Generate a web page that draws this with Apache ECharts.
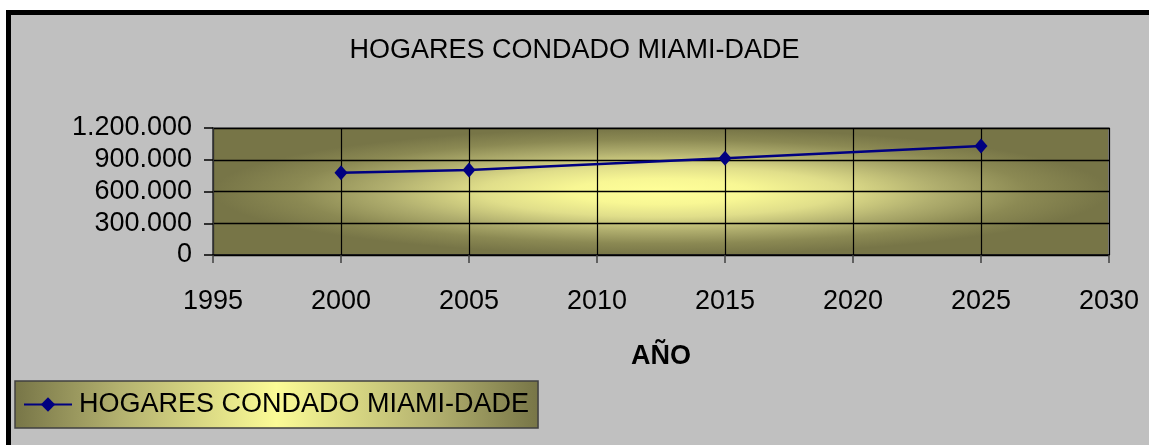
<!DOCTYPE html>
<html>
<head>
<meta charset="utf-8">
<script src="https://cdn.jsdelivr.net/npm/echarts@6/dist/echarts.min.js"></script>
<style>
  html, body { margin: 0; padding: 0; background: #ffffff; overflow: hidden; }
  #frame { position: absolute; left: 6px; top: 10px; width: 1200px; height: 500px;
           border: 5px solid #000; background: #c0c0c0; box-sizing: border-box; }
  #chart { position: absolute; left: 0; top: 0; width: 1149px; height: 445px; }
</style>
</head>
<body>
<div id="frame"></div>
<div id="chart"></div>
<script>
const titleText = 'HOGARES CONDADO MIAMI-DADE';
const seriesName = 'HOGARES CONDADO MIAMI-DADE';
const xAxisName = 'AÑO';
const years = [2000, 2005, 2015, 2025];
const households = [776000, 803000, 914000, 1030000];
const xMin = 1995, xMax = 2030, xStep = 5;
const yMin = 0, yMax = 1200000, yStep = 300000;

const FONT = '"Liberation Sans", Arial, Helvetica, sans-serif';

function fmt(v) {
  return String(v).replace(/\B(?=(\d{3})+(?!\d))/g, '.');
}

function glow() {
  return new echarts.graphic.RadialGradient(0.5, 0.5, 0.5, [
    { offset: 0, color: '#ffff99' },
    { offset: 0.2, color: '#f8f794' },
    { offset: 0.4, color: '#e0de8a' },
    { offset: 0.62, color: '#b0ae6e' },
    { offset: 0.82, color: '#8b8953' },
    { offset: 1, color: '#777547' }
  ]);
}

const chart = echarts.init(document.getElementById('chart'), null, { renderer: 'canvas' });

const option = {
  backgroundColor: 'transparent',
  animation: false,
  title: {
    text: titleText,
    left: 'center',
    top: 32,
    textStyle: { fontFamily: FONT, fontSize: 27, fontWeight: 'normal', color: '#000' }
  },
  legend: {
    left: 15,
    top: 381,
    padding: [10, 9, 10, 8],
    itemWidth: 48,
    itemHeight: 18,
    backgroundColor: new echarts.graphic.LinearGradient(0, 0, 1, 0, [
      { offset: 0, color: '#777547' },
      { offset: 0.2, color: '#b3b16f' },
      { offset: 0.5, color: '#fbfb96' },
      { offset: 0.8, color: '#b3b16f' },
      { offset: 1, color: '#777547' }
    ]),
    borderColor: '#404040',
    borderWidth: 1.5,
    textStyle: { fontFamily: FONT, fontSize: 27, color: '#000', padding: [0, 0, 0, 2] },
    data: [seriesName]
  },
  grid: {
    left: 213, right: 40, top: 128, bottom: 190,
    show: true,
    backgroundColor: 'transparent',
    borderColor: '#808080',
    borderWidth: 2
  },
  xAxis: {
    type: 'value',
    min: xMin, max: xMax, interval: xStep,
    name: xAxisName,
    nameLocation: 'middle',
    nameGap: 88,
    nameTextStyle: { fontFamily: FONT, fontSize: 27, fontWeight: 'bold', color: '#000' },
    axisLine: { show: true, onZero: false, lineStyle: { color: '#000', width: 1.5 } },
    axisTick: { show: true, inside: false, length: 8, lineStyle: { color: '#404040', width: 1.5 } },
    axisLabel: { margin: 33, fontFamily: FONT, fontSize: 27, color: '#000', formatter: v => String(v) },
    splitLine: { show: true, lineStyle: { color: '#000', width: 1.2 } }
  },
  yAxis: {
    type: 'value',
    min: yMin, max: yMax, interval: yStep,
    axisLine: { show: true, lineStyle: { color: '#404040', width: 1.5 } },
    axisTick: { show: true, inside: false, length: 9, lineStyle: { color: '#000', width: 1.5 } },
    axisLabel: { margin: 21, fontFamily: FONT, fontSize: 27, color: '#000', formatter: v => fmt(v) },
    splitLine: { show: true, lineStyle: { color: '#000', width: 1.3 } }
  },
  series: [{
    name: seriesName,
    type: 'line',
    data: years.map((y, i) => [y, households[i]]),
    symbol: 'diamond',
    symbolSize: [13, 15],
    showSymbol: true,
    lineStyle: { color: '#000080', width: 2.5 },
    itemStyle: { color: '#000080', borderWidth: 0 }
  }]
};

chart.setOption(option);

// plot-area glow, placed from the grid's own coordinate conversion
const p0 = chart.convertToPixel({ gridIndex: 0 }, [xMin, yMax]);
const p1 = chart.convertToPixel({ gridIndex: 0 }, [xMax, yMin]);
const w = p1[0] - p0[0];
const h = p1[1] - p0[1];
chart.setOption({
  graphic: [{
    type: 'rect',
    z: -10,
    silent: true,
    x: p0[0], y: p0[1],
    scaleX: w / h, scaleY: 1,
    shape: { x: 0, y: 0, width: h, height: h },
    style: { fill: glow() }
  }]
});
</script>
</body>
</html>
